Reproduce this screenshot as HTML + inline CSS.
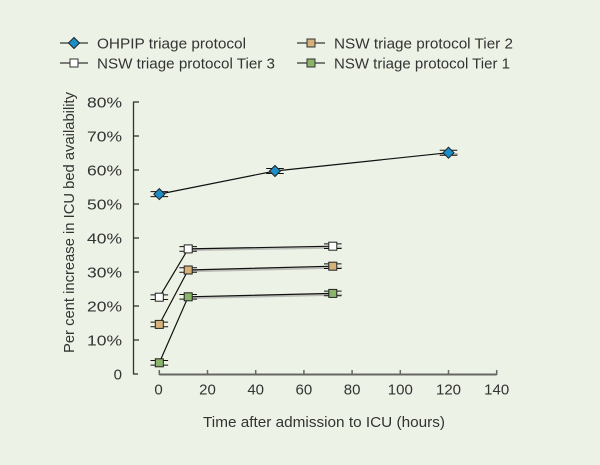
<!DOCTYPE html>
<html>
<head>
<meta charset="utf-8">
<style>
  html, body { margin:0; padding:0; }
  body { width:600px; height:465px; background:#edf2e6; overflow:hidden; }
  svg { display:block; }
  text { font-family: "Liberation Sans", "DejaVu Sans", sans-serif; fill:#333; font-size:15px; }
</style>
</head>
<body>
<svg width="600" height="465" viewBox="0 0 600 465" xmlns="http://www.w3.org/2000/svg">
  <rect x="0" y="0" width="600" height="465" fill="#edf2e6"/>

  <!-- Legend -->
  <g>
    <line x1="60" y1="43" x2="88" y2="43" stroke="#555" stroke-width="1.5"/>
    <polygon points="74,37.5 79.5,43 74,48.5 68.5,43" fill="#1b8ec7" stroke="#222" stroke-width="1"/>
    <text x="97" y="48.5" textLength="149" lengthAdjust="spacingAndGlyphs">OHPIP triage protocol</text>

    <line x1="60" y1="63" x2="88" y2="63" stroke="#555" stroke-width="1.5"/>
    <rect x="70" y="59" width="8" height="8" fill="#ffffff" stroke="#333" stroke-width="1"/>
    <text x="97" y="68.5" textLength="178" lengthAdjust="spacingAndGlyphs">NSW triage protocol Tier 3</text>

    <line x1="297" y1="43" x2="325" y2="43" stroke="#555" stroke-width="1.5"/>
    <rect x="307" y="39" width="8" height="8" fill="#d6b27a" stroke="#333" stroke-width="1"/>
    <text x="334" y="48.5" textLength="179" lengthAdjust="spacingAndGlyphs">NSW triage protocol Tier 2</text>

    <line x1="297" y1="63" x2="325" y2="63" stroke="#555" stroke-width="1.5"/>
    <rect x="307" y="59" width="8" height="8" fill="#8ab56a" stroke="#333" stroke-width="1"/>
    <text x="334" y="68.5" textLength="176" lengthAdjust="spacingAndGlyphs">NSW triage protocol Tier 1</text>
  </g>

  <!-- Y axis title -->
  <text transform="translate(74,222.5) rotate(-90)" text-anchor="middle" textLength="261" lengthAdjust="spacingAndGlyphs">Per cent increase in ICU bed availability</text>

  <!-- Y axis -->
  <line x1="133.5" y1="101.5" x2="133.5" y2="374.5" stroke="#333" stroke-width="1.3"/>
  <g stroke="#333" stroke-width="1.3">
    <line x1="133.5" y1="102" x2="139" y2="102"/>
    <line x1="133.5" y1="136" x2="139" y2="136"/>
    <line x1="133.5" y1="170" x2="139" y2="170"/>
    <line x1="133.5" y1="204" x2="139" y2="204"/>
    <line x1="133.5" y1="238" x2="139" y2="238"/>
    <line x1="133.5" y1="272" x2="139" y2="272"/>
    <line x1="133.5" y1="306" x2="139" y2="306"/>
    <line x1="133.5" y1="340" x2="139" y2="340"/>
    <line x1="133.5" y1="374" x2="138" y2="374"/>
  </g>
  <g text-anchor="end">
    <text x="122" y="107.5" textLength="35" lengthAdjust="spacingAndGlyphs">80%</text>
    <text x="122" y="141.5" textLength="35" lengthAdjust="spacingAndGlyphs">70%</text>
    <text x="122" y="175.5" textLength="35" lengthAdjust="spacingAndGlyphs">60%</text>
    <text x="122" y="209.5" textLength="35" lengthAdjust="spacingAndGlyphs">50%</text>
    <text x="122" y="243.5" textLength="35" lengthAdjust="spacingAndGlyphs">40%</text>
    <text x="122" y="277.5" textLength="35" lengthAdjust="spacingAndGlyphs">30%</text>
    <text x="122" y="311.5" textLength="35" lengthAdjust="spacingAndGlyphs">20%</text>
    <text x="122" y="345.5" textLength="35" lengthAdjust="spacingAndGlyphs">10%</text>
    <text x="122" y="379.5">0</text>
  </g>

  <!-- X axis -->
  <line x1="159.3" y1="374.5" x2="496.7" y2="374.5" stroke="#666" stroke-width="2"/>
  <g stroke="#666" stroke-width="1.5">
    <line x1="159.3" y1="370" x2="159.3" y2="375"/>
    <line x1="207.5" y1="370" x2="207.5" y2="375"/>
    <line x1="255.7" y1="370" x2="255.7" y2="375"/>
    <line x1="303.9" y1="370" x2="303.9" y2="375"/>
    <line x1="352.1" y1="370" x2="352.1" y2="375"/>
    <line x1="400.3" y1="370" x2="400.3" y2="375"/>
    <line x1="448.5" y1="370" x2="448.5" y2="375"/>
    <line x1="496.7" y1="370" x2="496.7" y2="375"/>
  </g>
  <g text-anchor="middle">
    <text x="158.5" y="394.5">0</text>
    <text x="207.5" y="394.5">20</text>
    <text x="255.7" y="394.5">40</text>
    <text x="303.9" y="394.5">60</text>
    <text x="352.1" y="394.5">80</text>
    <text x="400.3" y="394.5">100</text>
    <text x="448.5" y="394.5">120</text>
    <text x="496.7" y="394.5">140</text>
  </g>
  <text x="324" y="427" text-anchor="middle" textLength="242" lengthAdjust="spacingAndGlyphs">Time after admission to ICU (hours)</text>

  <!-- Shadows -->
  <g stroke="#999" stroke-width="2" opacity="0.6">
    <line x1="192" y1="250" x2="342" y2="247.5"/>
    <line x1="192" y1="271.3" x2="342" y2="267.5"/>
    <line x1="192" y1="298" x2="342" y2="294.6"/>
    <line x1="440" y1="154" x2="458" y2="154"/>
  </g>

  <!-- Series lines -->
  <g stroke="#111" stroke-width="1.2" fill="none">
    <polyline points="159.3,194.1 275,171 448.5,152.7"/>
    <polyline points="159.3,297.2 188.2,248.9 332.8,246.2"/>
    <polyline points="159.3,324.4 188.2,270 332.8,266.2"/>
    <polyline points="159.3,362.8 188.2,296.8 332.8,293.4"/>
  </g>

  <!-- Error bars -->
  <g stroke="#111" stroke-width="1">
    <line x1="150.5" y1="191.6" x2="168.1" y2="191.6"/><line x1="150.5" y1="196.6" x2="168.1" y2="196.6"/>
    <line x1="266.2" y1="168.5" x2="283.8" y2="168.5"/><line x1="266.2" y1="173.5" x2="283.8" y2="173.5"/>
    <line x1="439.7" y1="150.2" x2="457.3" y2="150.2"/><line x1="439.7" y1="155.2" x2="457.3" y2="155.2"/>
    <line x1="150.5" y1="294.9" x2="168.1" y2="294.9"/><line x1="150.5" y1="299.5" x2="168.1" y2="299.5"/>
    <line x1="179.4" y1="246.6" x2="197" y2="246.6"/><line x1="179.4" y1="251.2" x2="197" y2="251.2"/>
    <line x1="324" y1="243.9" x2="341.6" y2="243.9"/><line x1="324" y1="248.5" x2="341.6" y2="248.5"/>
    <line x1="150.5" y1="322.1" x2="168.1" y2="322.1"/><line x1="150.5" y1="326.7" x2="168.1" y2="326.7"/>
    <line x1="179.4" y1="267.7" x2="197" y2="267.7"/><line x1="179.4" y1="272.3" x2="197" y2="272.3"/>
    <line x1="324" y1="263.9" x2="341.6" y2="263.9"/><line x1="324" y1="268.5" x2="341.6" y2="268.5"/>
    <line x1="150.5" y1="360.5" x2="168.1" y2="360.5"/><line x1="150.5" y1="365.1" x2="168.1" y2="365.1"/>
    <line x1="179.4" y1="294.5" x2="197" y2="294.5"/><line x1="179.4" y1="299.1" x2="197" y2="299.1"/>
    <line x1="324" y1="291.1" x2="341.6" y2="291.1"/><line x1="324" y1="295.7" x2="341.6" y2="295.7"/>
  </g>

  <!-- Markers -->
  <g stroke="#222" stroke-width="1">
    <polygon points="159.3,188.6 164.8,194.1 159.3,199.6 153.8,194.1" fill="#1b8ec7"/>
    <polygon points="275,165.5 280.5,171 275,176.5 269.5,171" fill="#1b8ec7"/>
    <polygon points="448.5,147.2 454,152.7 448.5,158.2 443,152.7" fill="#1b8ec7"/>

    <rect x="155.3" y="293.2" width="8" height="8" fill="#ffffff"/>
    <rect x="184.2" y="244.9" width="8" height="8" fill="#ffffff"/>
    <rect x="328.8" y="242.2" width="8" height="8" fill="#ffffff"/>

    <rect x="155.3" y="320.4" width="8" height="8" fill="#d6b27a"/>
    <rect x="184.2" y="266" width="8" height="8" fill="#d6b27a"/>
    <rect x="328.8" y="262.2" width="8" height="8" fill="#d6b27a"/>

    <rect x="155.3" y="358.8" width="8" height="8" fill="#8ab56a"/>
    <rect x="184.2" y="292.8" width="8" height="8" fill="#8ab56a"/>
    <rect x="328.8" y="289.4" width="8" height="8" fill="#8ab56a"/>
  </g>
</svg>
</body>
</html>
